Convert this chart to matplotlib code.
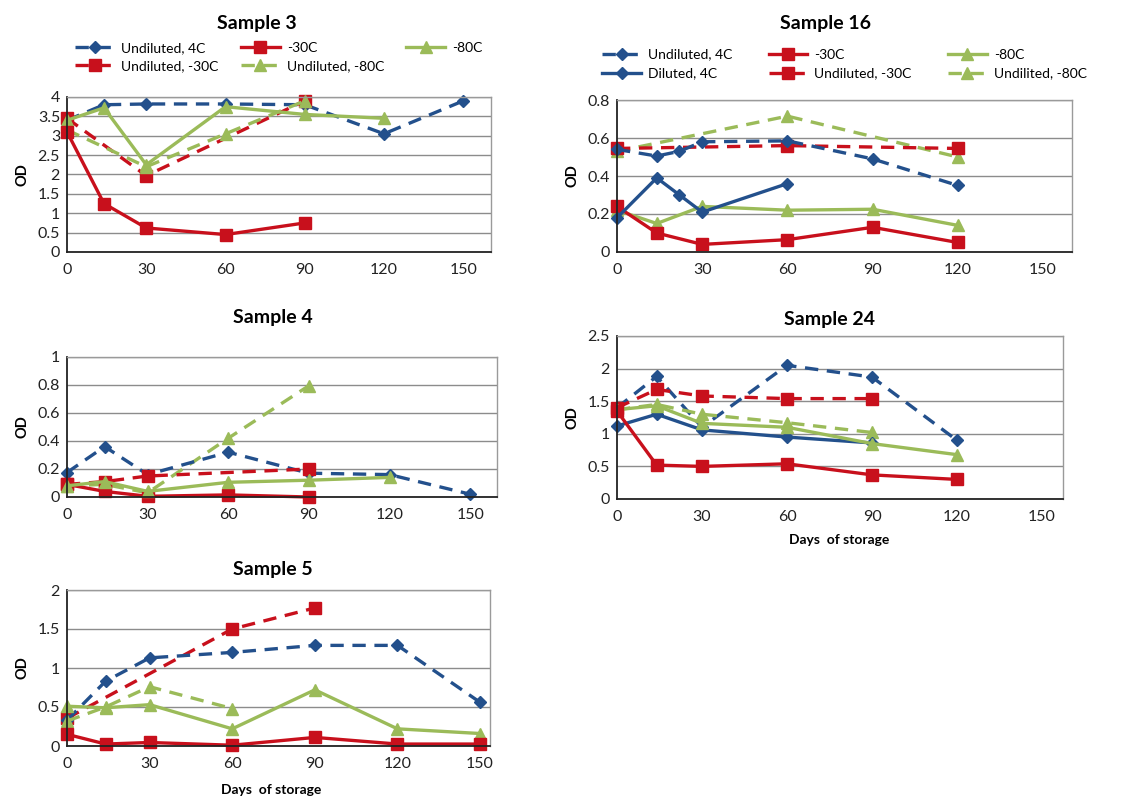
import matplotlib
matplotlib.use("Agg")
from matplotlib import pyplot as plt

plt.rcParams['font.family'] = ['Lato', 'DejaVu Sans']

BLUE = '#23508c'
RED = '#c8101c'
GREEN = '#9bbb59'

# ---- data (days of storage vs OD) ----
# Sample 3
s3_und4_x = [0, 14, 30, 60, 90, 120, 150]
s3_und4_y = [3.4, 3.8, 3.82, 3.82, 3.8, 3.05, 3.9]
s3_m30_x = [0, 14, 30, 60, 90]
s3_m30_y = [3.1, 1.25, 0.62, 0.45, 0.75]
s3_m80_x = [0, 14, 30, 60, 90, 120]
s3_m80_y = [3.4, 3.72, 2.25, 3.75, 3.55, 3.45]
s3_undm30_x = [0, 30, 90]
s3_undm30_y = [3.45, 1.97, 3.9]
s3_undm80_x = [0, 30, 60, 90]
s3_undm80_y = [3.15, 2.2, 3.05, 3.9]

# Sample 16
s16_und4_x = [0, 14, 22, 30, 60, 90, 120]
s16_und4_y = [0.54, 0.505, 0.53, 0.58, 0.585, 0.49, 0.35]
s16_dil4_x = [0, 14, 22, 30, 60]
s16_dil4_y = [0.18, 0.39, 0.30, 0.21, 0.36]
s16_m30_x = [0, 14, 30, 60, 90, 120]
s16_m30_y = [0.24, 0.10, 0.04, 0.065, 0.13, 0.05]
s16_m80_x = [0, 14, 30, 60, 90, 120]
s16_m80_y = [0.22, 0.15, 0.24, 0.22, 0.225, 0.14]
s16_undm30_x = [0, 60, 120]
s16_undm30_y = [0.545, 0.56, 0.545]
s16_undm80_x = [0, 60, 120]
s16_undm80_y = [0.53, 0.715, 0.50]

# Sample 4
s4_und4_x = [0, 14, 30, 60, 90, 120, 150]
s4_und4_y = [0.175, 0.36, 0.16, 0.32, 0.17, 0.16, 0.02]
s4_m30_x = [0, 14, 30, 60, 90]
s4_m30_y = [0.09, 0.04, 0.005, 0.015, 0.0]
s4_m80_x = [0, 14, 30, 60, 90, 120]
s4_m80_y = [0.08, 0.11, 0.04, 0.105, 0.12, 0.14]
s4_undm30_x = [0, 14, 30, 90]
s4_undm30_y = [0.09, 0.11, 0.15, 0.2]
s4_undm80_x = [0, 14, 30, 60, 90]
s4_undm80_y = [0.08, 0.09, 0.03, 0.42, 0.795]

# Sample 24
s24_und4_x = [0, 14, 30, 60, 90, 120]
s24_und4_y = [1.4, 1.88, 1.1, 2.05, 1.87, 0.9]
s24_dil4_x = [0, 14, 30, 60, 90]
s24_dil4_y = [1.12, 1.3, 1.06, 0.95, 0.86]
s24_m30_x = [0, 14, 30, 60, 90, 120]
s24_m30_y = [1.35, 0.52, 0.5, 0.54, 0.37, 0.3]
s24_m80_x = [0, 14, 30, 60, 90, 120]
s24_m80_y = [1.37, 1.43, 1.16, 1.1, 0.85, 0.68]
s24_undm30_x = [0, 14, 30, 60, 90]
s24_undm30_y = [1.4, 1.68, 1.58, 1.54, 1.54]
s24_undm80_x = [0, 14, 30, 60, 90]
s24_undm80_y = [1.37, 1.45, 1.3, 1.17, 1.02]

# Sample 5
s5_und4_x = [0, 14, 30, 60, 90, 120, 150]
s5_und4_y = [0.33, 0.83, 1.13, 1.2, 1.29, 1.29, 0.56]
s5_m30_x = [0, 14, 30, 60, 90, 120, 150]
s5_m30_y = [0.15, 0.025, 0.045, 0.01, 0.11, 0.025, 0.025]
s5_m80_x = [0, 14, 30, 60, 90, 120, 150]
s5_m80_y = [0.51, 0.49, 0.53, 0.22, 0.72, 0.22, 0.16]
s5_undm30_x = [0, 60, 90]
s5_undm30_y = [0.355, 1.5, 1.77]
s5_undm80_x = [0, 14, 30, 60]
s5_undm80_y = [0.32, 0.5, 0.76, 0.48]

xticks = [0, 30, 60, 90, 120, 150]

W, H = 1127, 796
fig = plt.figure(figsize=(W / 100, H / 100), dpi=100)


def make_ax(x0, x1, ytop, ybot, xmax, ymax, ystep, title, title_xy, label_xy=None):
    ax = fig.add_axes([x0 / W, 1 - ybot / H, (x1 - x0) / W, (ybot - ytop) / H])
    ax.set_xlim(0, xmax)
    ax.set_ylim(0, ymax)
    ax.set_xticks(xticks)
    n = int(round(ymax / ystep))
    yt = [round(i * ystep, 2) for i in range(n + 1)]
    ax.set_yticks(yt)
    ax.set_yticklabels(['%g' % v for v in yt])
    ax.yaxis.grid(True, color='#8c8c8c', lw=1)
    ax.set_axisbelow(True)
    ax.tick_params(length=0, labelsize=11.5, colors='#222222')
    ax.tick_params(axis='x', pad=8)
    ax.tick_params(axis='y', pad=5)
    for s in ['top', 'right']:
        ax.spines[s].set_color('#9a9a9a')
        ax.spines[s].set_linewidth(1)
    for s in ['left', 'bottom']:
        ax.spines[s].set_color('#222222')
        ax.spines[s].set_linewidth(1.3)
    ax.set_ylabel('OD', fontsize=10.5, fontweight='bold', labelpad=6)
    fig.text(title_xy[0] / W, 1 - title_xy[1] / H, title, ha='center', va='center',
             fontsize=14, fontweight='bold')
    if label_xy:
        fig.text(label_xy[0] / W, 1 - label_xy[1] / H, 'Days  of storage', ha='center',
                 va='center', fontsize=10, fontweight='bold')
    return ax


def line(ax, x, y, color, marker, dashed, label, ms):
    kw = dict(color=color, marker=marker, markersize=ms, lw=2.4, label=label,
              markeredgecolor=color, markerfacecolor=color, clip_on=False)
    if dashed:
        ln, = ax.plot(x, y, linestyle='--', **kw)
        ln.set_dashes((4, 2.6))
    else:
        ln, = ax.plot(x, y, **kw)
    return ln


# Sample 3
ax3 = make_ax(67, 491, 97, 252, 160.5, 4, 0.5, 'Sample 3', (257, 24))
h_u4 = line(ax3, s3_und4_x, s3_und4_y, BLUE, 'D', True, 'Undiluted, 4C', 6)
h_um30 = line(ax3, s3_undm30_x, s3_undm30_y, RED, 's', True, 'Undiluted, -30C', 9)
h_m80 = line(ax3, s3_m80_x, s3_m80_y, GREEN, '^', False, '-80C', 8)
h_um80 = line(ax3, s3_undm80_x, s3_undm80_y, GREEN, '^', True, 'Undiluted, -80C', 8)
h_m30 = line(ax3, s3_m30_x, s3_m30_y, RED, 's', False, '-30C', 9)
ax3.legend([h_u4, h_um30, h_m30, h_um80, h_m80],
           ['Undiluted, 4C', 'Undiluted, -30C', '-30C', 'Undiluted, -80C', '-80C'],
           ncol=3, loc='center', bbox_to_anchor=(0.5, 1 + (97 - 57) / 155),
           frameon=False, fontsize=10, handlelength=2.8, columnspacing=1.6,
           labelspacing=0.45, handletextpad=0.5)

# Sample 16
ax16 = make_ax(617, 1072, 100, 252, 160.2, 0.8, 0.2, 'Sample 16', (825, 23))
a = line(ax16, s16_undm80_x, s16_undm80_y, GREEN, '^', True, 'Undilited, -80C', 8)
b = line(ax16, s16_undm30_x, s16_undm30_y, RED, 's', True, 'Undiluted, -30C', 8)
c = line(ax16, s16_und4_x, s16_und4_y, BLUE, 'D', True, 'Undiluted, 4C', 6)
d = line(ax16, s16_m80_x, s16_m80_y, GREEN, '^', False, '-80C', 8)
e = line(ax16, s16_m30_x, s16_m30_y, RED, 's', False, '-30C', 8)
f = line(ax16, s16_dil4_x, s16_dil4_y, BLUE, 'D', False, 'Diluted, 4C', 6)
ax16.legend([c, f, e, b, d, a],
            ['Undiluted, 4C', 'Diluted, 4C', '-30C', 'Undiluted, -30C', '-80C', 'Undilited, -80C'],
            ncol=3, loc='center', bbox_to_anchor=(0.5, 1 + (100 - 64) / 152),
            frameon=False, fontsize=10, handlelength=2.8, columnspacing=2.6,
            labelspacing=0.5, handletextpad=0.5)

# Sample 4
ax4 = make_ax(67, 497, 357, 497, 160, 1, 0.2, 'Sample 4', (273, 318))
line(ax4, s4_undm80_x, s4_undm80_y, GREEN, '^', True, 'Undiluted, -80C', 8)
line(ax4, s4_und4_x, s4_und4_y, BLUE, 'D', True, 'Undiluted, 4C', 6)
line(ax4, s4_undm30_x, s4_undm30_y, RED, 's', True, 'Undiluted, -30C', 8)
line(ax4, s4_m30_x, s4_m30_y, RED, 's', False, '-30C', 8)
line(ax4, s4_m80_x, s4_m80_y, GREEN, '^', False, '-80C', 8)

# Sample 24
ax24 = make_ax(617, 1063, 336, 499, 157.4, 2.5, 0.5, 'Sample 24', (830, 320), (839, 540))
line(ax24, s24_und4_x, s24_und4_y, BLUE, 'D', True, 'Undiluted, 4C', 6)
line(ax24, s24_undm30_x, s24_undm30_y, RED, 's', True, 'Undiluted, -30C', 9)
line(ax24, s24_undm80_x, s24_undm80_y, GREEN, '^', True, 'Undiluted, -80C', 8)
line(ax24, s24_dil4_x, s24_dil4_y, BLUE, 'D', False, 'Diluted, 4C', 6)
line(ax24, s24_m80_x, s24_m80_y, GREEN, '^', False, '-80C', 8)
line(ax24, s24_m30_x, s24_m30_y, RED, 's', False, '-30C', 9)

# Sample 5
ax5 = make_ax(67, 490, 590, 746, 153.6, 2, 0.5, 'Sample 5', (273, 570), (271, 790))
line(ax5, s5_undm30_x, s5_undm30_y, RED, 's', True, 'Undiluted, -30C', 9)
line(ax5, s5_und4_x, s5_und4_y, BLUE, 'D', True, 'Undiluted, 4C', 6)
line(ax5, s5_undm80_x, s5_undm80_y, GREEN, '^', True, 'Undiluted, -80C', 8)
line(ax5, s5_m80_x, s5_m80_y, GREEN, '^', False, '-80C', 8)
line(ax5, s5_m30_x, s5_m30_y, RED, 's', False, '-30C', 9)

plt.savefig('out.png', dpi=100)
